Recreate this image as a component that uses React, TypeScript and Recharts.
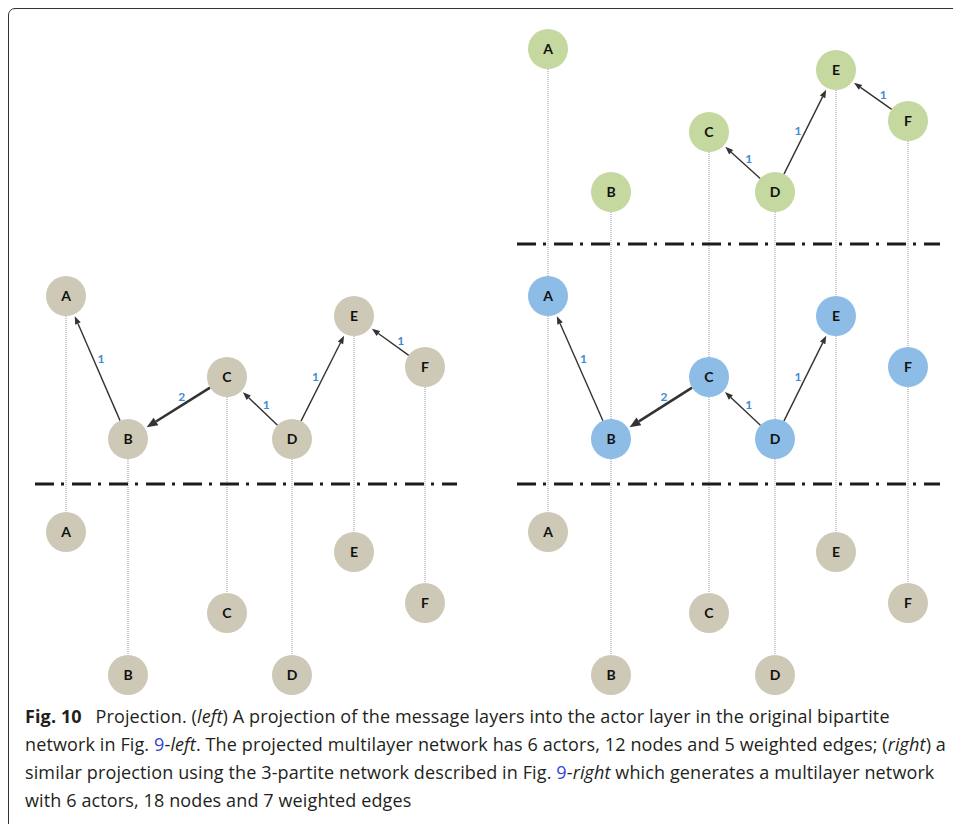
import React from "react";
import { ScatterChart, Scatter, XAxis, YAxis, ReferenceLine } from "recharts";

// actors and layout columns (chart units = page pixels)
const actors = ["A", "B", "C", "D", "E", "F"];
const leftColumns = [66, 128, 227, 292, 354, 425];
const rightColumns = [548, 611, 709, 775, 836, 908];

// vertical level of each actor in each layer
const greenLevels = [49, 192, 132, 192, 70, 121];
const middleLevels = [296, 439, 377, 439, 316, 367];
const bottomLevels = [532, 675, 613, 675, 552, 603];

// weighted edges: [from, to, weight]
const leftEdges: [string, string, number][] = [
  ["B", "A", 1],
  ["C", "B", 2],
  ["D", "C", 1],
  ["D", "E", 1],
  ["F", "E", 1]
];
const blueEdges: [string, string, number][] = [
  ["B", "A", 1],
  ["C", "B", 2],
  ["D", "C", 1],
  ["D", "E", 1]
];
const greenEdges: [string, string, number][] = [
  ["D", "C", 1],
  ["D", "E", 1],
  ["F", "E", 1]
];

const leftSeparators = [484];
const rightSeparators = [244, 484];
const leftSpan = [35, 457];
const rightSpan = [517, 940];

const W = 953;
const H = 824;
const NODE_R = 20;
const BEIGE = "#cdc9b6";
const GREEN = "#c4d89f";
const BLUE = "#8dbde6";
const FONT = "Lato, 'Open Sans', sans-serif";
// where along each edge the weight label sits (fraction from source)
const LABEL_AT: Record<string, number> = { BA: 0.54, CB: 0.42, DC: 0.47, DE: 0.48, FE: 0.4 };
const LABEL_GAP = 7;

type Node = { name: string; x: number; y: number };

const makeNodes = (cols: number[], levels: number[]): Node[] =>
  actors.map((name, i) => ({ name, x: cols[i], y: levels[i] }));

const leftTop = makeNodes(leftColumns, middleLevels);
const leftBottom = makeNodes(leftColumns, bottomLevels);
const rightGreen = makeNodes(rightColumns, greenLevels);
const rightBlue = makeNodes(rightColumns, middleLevels);
const rightBottom = makeNodes(rightColumns, bottomLevels);

const find = (nodes: Node[], name: string) => nodes.find((n) => n.name === name)!;

const nodeShape = (fill: string) => (props: any) => {
  const { cx, cy, payload } = props;
  return (
    <g>
      <circle cx={cx} cy={cy} r={NODE_R} fill={fill} />
      <text
        x={cx}
        y={cy}
        dy="0.36em"
        textAnchor="middle"
        fontFamily={FONT}
        fontWeight={700}
        fontSize={14}
        fill="#111"
      >
        {payload.name}
      </text>
    </g>
  );
};

// connector between two nodes, trimmed at both circles
const dottedShape = (props: any) => {
  const { x1, y1, x2, y2 } = props;
  const dir = y2 > y1 ? 1 : -1;
  return (
    <line
      x1={x1}
      y1={y1 + dir * NODE_R}
      x2={x2}
      y2={y2 - dir * NODE_R}
      stroke="#b5b5b5"
      strokeWidth={1.4}
      strokeDasharray="1 1"
    />
  );
};

const arrowShape = (weight: number, at: number) => (props: any) => {
  const { x1, y1, x2, y2 } = props;
  const dx = x2 - x1;
  const dy = y2 - y1;
  const len = Math.hypot(dx, dy);
  const ux = dx / len;
  const uy = dy / len;
  const sx = x1 + ux * NODE_R;
  const sy = y1 + uy * NODE_R;
  const tx = x2 - ux * (NODE_R + 2);
  const ty = y2 - uy * (NODE_R + 2);
  const thick = weight > 1;
  const head = thick ? 11 : 8;
  const half = thick ? 4.5 : 3;
  const bx = tx - ux * head;
  const by = ty - uy * head;
  const px = -uy;
  const py = ux;
  let nx = -uy;
  let ny = ux;
  if (ny > 0) {
    nx = -nx;
    ny = -ny;
  }
  const mx = x1 + dx * at + nx * LABEL_GAP;
  const my = y1 + dy * at + ny * LABEL_GAP;
  return (
    <g>
      <line x1={sx} y1={sy} x2={bx} y2={by} stroke="#333" strokeWidth={thick ? 2.6 : 1.4} />
      <polygon
        points={`${tx},${ty} ${bx + px * half},${by + py * half} ${bx - px * half},${by - py * half}`}
        fill="#333"
      />
      <text
        x={mx}
        y={my}
        dy="0.36em"
        textAnchor="middle"
        fontFamily={FONT}
        fontWeight={700}
        fontSize={12}
        fill="#3f8bd3"
      >
        {weight}
      </text>
    </g>
  );
};

const renderEdges = (nodes: Node[], edges: [string, string, number][], key: string) =>
  edges.map(([from, to, w]) => {
    const a = find(nodes, from);
    const b = find(nodes, to);
    return (
      <ReferenceLine
        key={`${key}-${from}${to}`}
        segment={[{ x: a.x, y: a.y }, { x: b.x, y: b.y }]}
        ifOverflow="visible"
        shape={arrowShape(w, LABEL_AT[from + to] ?? 0.5)}
      />
    );
  });

const renderDrops = (upper: Node[], lower: Node[], key: string) =>
  upper.map((u, i) => (
    <ReferenceLine
      key={`${key}-${u.name}`}
      segment={[{ x: u.x, y: u.y }, { x: lower[i].x, y: lower[i].y }]}
      ifOverflow="visible"
      shape={dottedShape}
    />
  ));

const renderSeparators = (levels: number[], span: number[], key: string) =>
  levels.map((y) => (
    <ReferenceLine
      key={`${key}-${y}`}
      segment={[{ x: span[0], y }, { x: span[1], y }]}
      ifOverflow="visible"
      stroke="#1c1c1c"
      strokeWidth={3}
      strokeDasharray="19 7 3 8"
    />
  ));

const link = { color: "#2f47d6" };

export default function App() {
  return (
    <div
      style={{
        position: "absolute",
        left: 0,
        top: 0,
        width: W,
        height: H,
        overflow: "hidden",
        background: "#fff"
      }}
    >
      <div
        style={{
          position: "absolute",
          left: 8,
          top: 8,
          width: W + 40,
          height: H + 40,
          border: "1.5px solid #333",
          borderRadius: 7
        }}
      />
      <div style={{ position: "absolute", left: 0, top: 0 }}>
        <ScatterChart width={W} height={H} margin={{ top: 0, right: 0, bottom: 0, left: 0 }}>
          <XAxis type="number" dataKey="x" domain={[0, W]} hide allowDataOverflow />
          <YAxis type="number" dataKey="y" domain={[0, H]} reversed hide allowDataOverflow />
          {renderDrops(leftTop, leftBottom, "ld")}
          {renderDrops(rightGreen, rightBlue, "rd1")}
          {renderDrops(rightBlue, rightBottom, "rd2")}
          {renderSeparators(leftSeparators, leftSpan, "ls")}
          {renderSeparators(rightSeparators, rightSpan, "rs")}
          {renderEdges(leftTop, leftEdges, "le")}
          {renderEdges(rightBlue, blueEdges, "be")}
          {renderEdges(rightGreen, greenEdges, "ge")}
          <Scatter data={leftTop} shape={nodeShape(BEIGE)} isAnimationActive={false} />
          <Scatter data={leftBottom} shape={nodeShape(BEIGE)} isAnimationActive={false} />
          <Scatter data={rightGreen} shape={nodeShape(GREEN)} isAnimationActive={false} />
          <Scatter data={rightBlue} shape={nodeShape(BLUE)} isAnimationActive={false} />
          <Scatter data={rightBottom} shape={nodeShape(BEIGE)} isAnimationActive={false} />
        </ScatterChart>
      </div>
      <div
        style={{
          position: "absolute",
          left: 25,
          top: 702,
          fontFamily: "'Open Sans', sans-serif",
          fontSize: 18,
          lineHeight: "28px",
          letterSpacing: "0.12px",
          color: "#231f20",
          whiteSpace: "nowrap"
        }}
      >
        <div>
          <b style={{ marginRight: 9 }}>Fig. 10</b> Projection. (<i>left</i>) A projection of the message
          layers into the actor layer in the original bipartite
        </div>
        <div>
          network in Fig. <span style={link}>9</span>-<i>left</i>. The projected multilayer network has 6
          actors, 12 nodes and 5 weighted edges; (<i>right</i>) a
        </div>
        <div>
          similar projection using the 3-partite network described in Fig. <span style={link}>9</span>-
          <i>right</i> which generates a multilayer network
        </div>
        <div>with 6 actors, 18 nodes and 7 weighted edges</div>
      </div>
    </div>
  );
}
